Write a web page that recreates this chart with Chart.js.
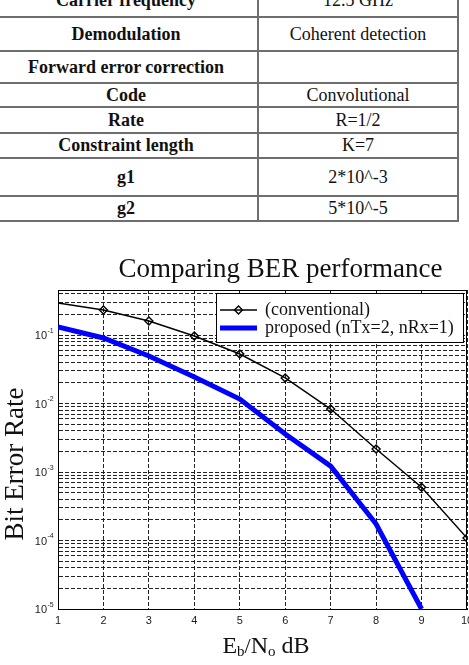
<!DOCTYPE html>
<html>
<head>
<meta charset="utf-8">
<script src="https://cdn.jsdelivr.net/npm/chart.js@4.4.0/dist/chart.umd.min.js"></script>
<style>
html, body { margin: 0; padding: 0; width: 469px; height: 665px; overflow: hidden; background: #fff; }
#params { position: absolute; left: -7px; top: -18px; width: 464px; table-layout: fixed; border-collapse: collapse;
  font-family: "Liberation Serif", "Times New Roman", serif; font-size: 18px; color: #111; }
#params td { border: 2px solid #6e6e6e; padding: 0; text-align: center; vertical-align: middle; }
#params td.k { font-weight: bold; }
#chart { position: absolute; left: 0; top: 225px; }
</style>
</head>
<body>
<table id="params">
  <colgroup><col style="width:264px"><col style="width:200px"></colgroup>
  <tr style="height:34px"><td class="k">Carrier frequency</td><td>12.5 GHz</td></tr>
  <tr style="height:34px"><td class="k">Demodulation</td><td>Coherent detection</td></tr>
  <tr style="height:32px"><td class="k">Forward error correction</td><td></td></tr>
  <tr style="height:24px"><td class="k">Code</td><td>Convolutional</td></tr>
  <tr style="height:26px"><td class="k">Rate</td><td>R=1/2</td></tr>
  <tr style="height:25px"><td class="k">Constraint length</td><td>K=7</td></tr>
  <tr style="height:38px"><td class="k">g1</td><td>2*10^-3</td></tr>
  <tr style="height:25px"><td class="k">g2</td><td>5*10^-5</td></tr>
</table>
<canvas id="chart" width="480" height="440"></canvas>
<script>
const ebno = [1, 2, 3, 4, 5, 6, 7, 8, 9, 10];
const berConventional = [0.293, 0.232, 0.160, 0.0967, 0.0528, 0.0236, 0.0083, 0.00217, 0.00060, 0.000109];
const berProposed = [0.131, 0.0904, 0.0493, 0.0244, 0.0116, 0.00359, 0.00122, 0.000174, 0.00001];
const seriesNames = ['(conventional)', 'proposed (nTx=2, nRx=1)'];
const xTicks = [1, 2, 3, 4, 5, 6, 7, 8, 9, 10];
const yDecades = [-5, -4, -3, -2, -1];
const yMin = 1e-5;
const yMax = 0.454;

const serif = '"Liberation Serif", "Times New Roman", serif';
const sans = '"Liberation Sans", Arial, sans-serif';

// every 1..9 x 10^k line, like matlab's minor log grid
const yGrid = [];
yDecades.forEach(k => {
    for (let m = 1; m <= 9; m++) {
        const v = m * Math.pow(10, k);
        if (v <= yMax) yGrid.push(v);
    }
});

function diamond(ctx, cx, cy, r) {
    ctx.beginPath();
    ctx.moveTo(cx, cy - r);
    ctx.lineTo(cx + r, cy);
    ctx.lineTo(cx, cy + r);
    ctx.lineTo(cx - r, cy);
    ctx.closePath();
    ctx.stroke();
}

const decor = {
    id: 'decor',
    afterDraw(chart) {
        const {ctx, chartArea: a, scales: {y}} = chart;
        ctx.save();

        // close the box on top and right
        ctx.strokeStyle = '#000';
        ctx.lineWidth = 1;
        ctx.beginPath();
        ctx.moveTo(a.left, a.top + 0.5);
        ctx.lineTo(a.right, a.top + 0.5);
        ctx.moveTo(a.right - 0.5, a.top);
        ctx.lineTo(a.right - 0.5, a.bottom);
        ctx.stroke();

        // y tick labels 10^k
        ctx.fillStyle = '#222';
        yDecades.forEach(k => {
            const py = y.getPixelForValue(Math.pow(10, k));
            ctx.font = '11px ' + sans;
            ctx.textAlign = 'right';
            ctx.textBaseline = 'middle';
            ctx.fillText('10', 47, py + 1);
            ctx.font = '7px ' + sans;
            ctx.textAlign = 'left';
            ctx.fillText(String(k), 47.5, py - 4);
        });

        // legend
        const lx = 216, ly = 68, lw = 247, lh = 49;
        ctx.fillStyle = '#fff';
        ctx.fillRect(lx, ly, lw, lh);
        ctx.strokeStyle = '#000';
        ctx.lineWidth = 1;
        ctx.strokeRect(lx + 0.5, ly + 0.5, lw, lh);
        const ds = chart.data.datasets;
        ds.forEach((d, i) => {
            const yy = ly + 17 + i * 18;
            ctx.strokeStyle = d.borderColor;
            ctx.lineWidth = d.borderWidth;
            ctx.beginPath();
            ctx.moveTo(lx + 4, yy);
            ctx.lineTo(lx + 41, yy);
            ctx.stroke();
            if (i === 0) {
                ctx.lineWidth = 1.4;
                diamond(ctx, lx + 22.5, yy, 4);
            }
            ctx.fillStyle = '#111';
            ctx.font = '18px ' + serif;
            ctx.textAlign = 'left';
            ctx.textBaseline = 'middle';
            ctx.fillText(d.label, lx + 49, yy);
        });

        // title
        ctx.fillStyle = '#111';
        ctx.font = '27px ' + serif;
        ctx.textAlign = 'center';
        ctx.textBaseline = 'alphabetic';
        ctx.fillText('Comparing BER performance', 280.5, 52);

        // y axis label
        ctx.save();
        ctx.translate(23, 239);
        ctx.rotate(-Math.PI / 2);
        ctx.fillText('Bit Error Rate', 0, 0);
        ctx.restore();

        // x axis label with subscripts
        const parts = [['E', 24, 0], ['b', 15, 3], ['/', 22, 0], ['N', 24, 0], ['o', 15, 3], [' dB', 24, 0]];
        let total = 0;
        parts.forEach(p => { ctx.font = p[1] + 'px ' + serif; total += ctx.measureText(p[0]).width; });
        let px = 266 - total / 2;
        ctx.textAlign = 'left';
        parts.forEach(p => {
            ctx.font = p[1] + 'px ' + serif;
            ctx.fillText(p[0], px, 428 + p[2]);
            px += ctx.measureText(p[0]).width;
        });

        ctx.restore();
    }
};

new Chart(document.getElementById('chart'), {
    type: 'line',
    data: {
        datasets: [
            {
                label: seriesNames[0],
                data: ebno.map((v, i) => ({x: v, y: berConventional[i]})),
                borderColor: '#000',
                borderWidth: 1.4,
                pointStyle: 'rectRot',
                pointRadius: ebno.map((v, i) => i === 0 ? 0 : 4),
                pointBorderColor: '#000',
                pointBackgroundColor: 'rgba(0,0,0,0)',
                pointBorderWidth: 1.4,
                tension: 0
            },
            {
                label: seriesNames[1],
                data: berProposed.map((v, i) => ({x: ebno[i], y: v})),
                borderColor: '#0000ff',
                borderWidth: 5,
                pointRadius: 0,
                tension: 0
            }
        ]
    },
    options: {
        responsive: false,
        animation: false,
        layout: {padding: {top: 65, right: 13, bottom: 0, left: 0}},
        plugins: {legend: {display: false}, title: {display: false}, tooltip: {enabled: false}},
        scales: {
            x: {
                type: 'linear',
                min: 1,
                max: 10,
                afterBuildTicks: s => { s.ticks = xTicks.map(v => ({value: v})); },
                afterFit: s => { s.height = 56; },
                ticks: {font: {family: sans, size: 11}, color: '#222', padding: 5, maxRotation: 0, autoSkip: false},
                grid: {color: '#222', lineWidth: 1, drawTicks: false},
                border: {display: true, color: '#000', width: 1, dash: [4, 2]}
            },
            y: {
                type: 'logarithmic',
                min: yMin,
                max: yMax,
                afterBuildTicks: s => { s.ticks = yGrid.map(v => ({value: v})); },
                afterFit: s => { s.width = 58; },
                ticks: {display: false},
                grid: {color: '#222', lineWidth: 1, drawTicks: false},
                border: {display: true, color: '#000', width: 1, dash: [4, 2]}
            }
        }
    },
    plugins: [decor]
});
</script>
</body>
</html>
